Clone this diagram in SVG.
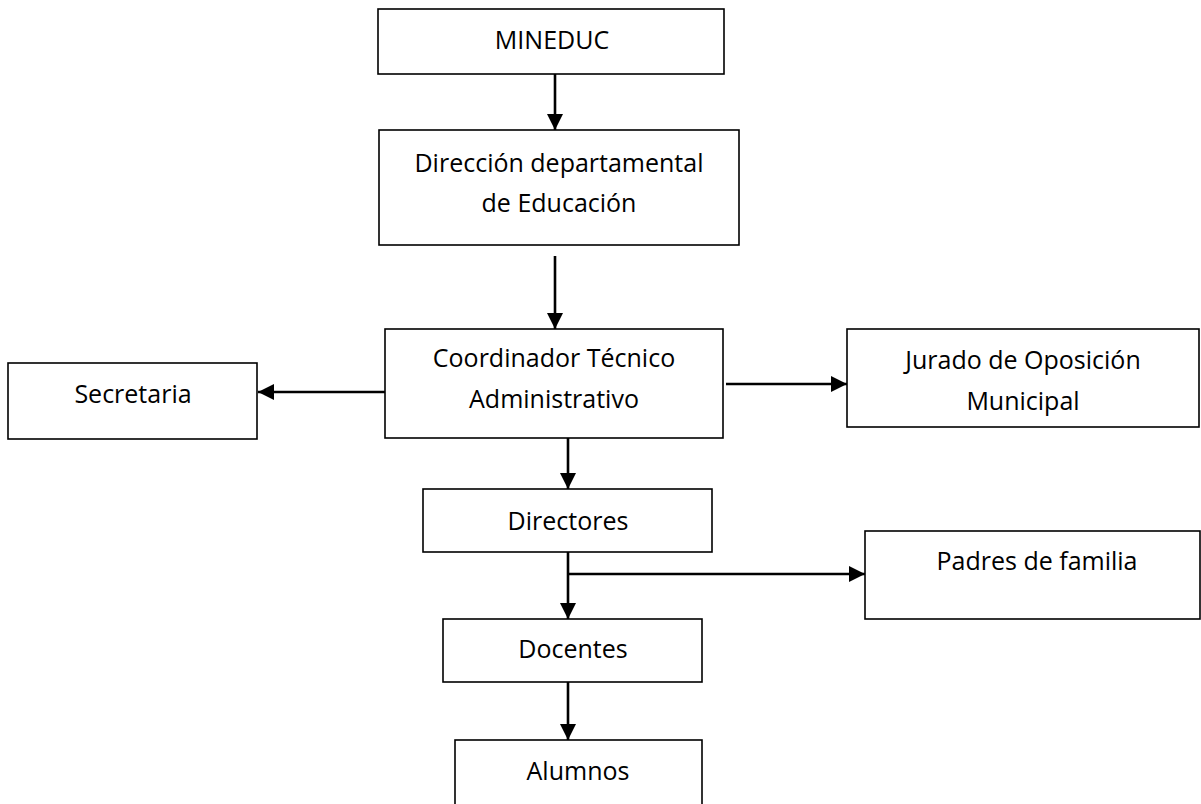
<svg xmlns="http://www.w3.org/2000/svg" width="1201" height="804" viewBox="0 0 1201 804">
<defs>
<style>
.box{fill:#fff;stroke:#000;stroke-width:1.6}
.t{font-family:"Open Sans","Liberation Sans",sans-serif;font-size:25px;fill:#000;text-anchor:middle}
.c{stroke:#000;stroke-width:2.6;fill:none}
</style>
<marker id="ah" viewBox="0 0 16 16" refX="16" refY="8" markerWidth="16" markerHeight="16" markerUnits="userSpaceOnUse" orient="auto">
<path d="M0,0 L16,8 L0,16 Z" fill="#000"/>
</marker>
</defs>
<rect width="1201" height="804" fill="#fff"/>
<g id="connectors">
<line class="c" x1="555" y1="74" x2="555" y2="130" marker-end="url(#ah)"/>
<line class="c" x1="555" y1="256" x2="555" y2="329" marker-end="url(#ah)"/>
<line class="c" x1="385" y1="392" x2="258" y2="392" marker-end="url(#ah)"/>
<line class="c" x1="726" y1="384" x2="847" y2="384" marker-end="url(#ah)"/>
<line class="c" x1="568" y1="438" x2="568" y2="489" marker-end="url(#ah)"/>
<line class="c" x1="568" y1="552" x2="568" y2="619" marker-end="url(#ah)"/>
<line class="c" x1="568" y1="574" x2="865" y2="574" marker-end="url(#ah)"/>
<line class="c" x1="568" y1="682" x2="568" y2="740" marker-end="url(#ah)"/>
</g>
<g id="mineduc">
<rect class="box" x="378" y="9" width="346" height="65"/>
<text class="t" x="552" y="49">MINEDUC</text>
</g>
<g id="direccion">
<rect class="box" x="379" y="130" width="360" height="115"/>
<text class="t" x="559" y="172">Dirección departamental</text>
<text class="t" x="559" y="212">de Educación</text>
</g>
<g id="coordinador">
<rect class="box" x="385" y="329" width="338" height="109"/>
<text class="t" x="554" y="367">Coordinador Técnico</text>
<text class="t" x="554" y="408">Administrativo</text>
</g>
<g id="secretaria">
<rect class="box" x="8" y="363" width="249" height="76"/>
<text class="t" x="133" y="403">Secretaria</text>
</g>
<g id="jurado">
<rect class="box" x="847" y="329" width="352" height="98"/>
<text class="t" x="1023" y="369">Jurado de Oposición</text>
<text class="t" x="1023" y="410">Municipal</text>
</g>
<g id="directores">
<rect class="box" x="423" y="489" width="289" height="63"/>
<text class="t" x="568" y="530">Directores</text>
</g>
<g id="padres">
<rect class="box" x="865" y="531" width="335" height="88"/>
<text class="t" x="1037" y="570">Padres de familia</text>
</g>
<g id="docentes">
<rect class="box" x="443" y="619" width="259" height="63"/>
<text class="t" x="573" y="658">Docentes</text>
</g>
<g id="alumnos">
<rect class="box" x="455" y="740" width="247" height="80"/>
<text class="t" x="578" y="780">Alumnos</text>
</g>
</svg>
